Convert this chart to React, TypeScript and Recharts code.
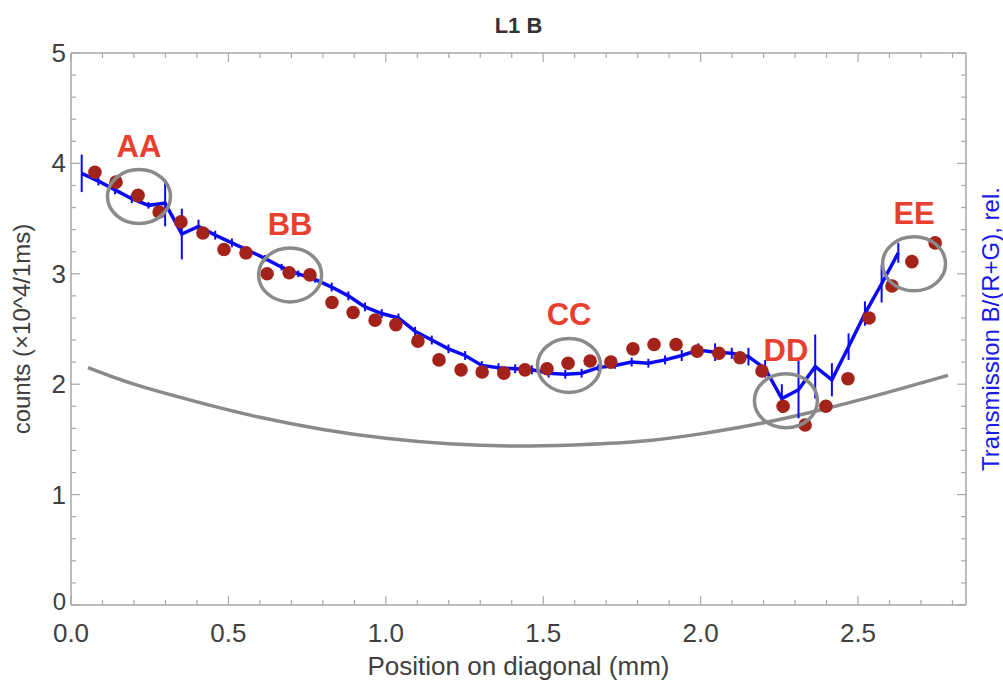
import React from 'react';
import { ComposedChart, XAxis, YAxis, Line, Scatter, ErrorBar } from 'recharts';

// ---- data ----
const countPos = [0.076, 0.143, 0.213, 0.280, 0.349, 0.419, 0.486, 0.556, 0.623, 0.693, 0.759, 0.829, 0.896, 0.966, 1.032, 1.102, 1.169, 1.239, 1.306, 1.375, 1.442, 1.512, 1.579, 1.649, 1.715, 1.785, 1.852, 1.922, 1.989, 2.058, 2.125, 2.195, 2.262, 2.332, 2.398, 2.468, 2.535, 2.608, 2.671, 2.745];
const countVal = [3.92, 3.83, 3.71, 3.56, 3.47, 3.37, 3.22, 3.19, 3.00, 3.01, 2.99, 2.74, 2.65, 2.58, 2.54, 2.39, 2.22, 2.13, 2.11, 2.10, 2.13, 2.14, 2.19, 2.21, 2.20, 2.32, 2.36, 2.36, 2.30, 2.28, 2.24, 2.12, 1.80, 1.63, 1.80, 2.05, 2.60, 2.89, 3.11, 3.28];

const transPos = [0.034, 0.087, 0.140, 0.193, 0.246, 0.299, 0.352, 0.405, 0.458, 0.511, 0.564, 0.616, 0.669, 0.722, 0.775, 0.828, 0.881, 0.934, 0.987, 1.040, 1.093, 1.146, 1.199, 1.252, 1.305, 1.358, 1.411, 1.464, 1.517, 1.570, 1.622, 1.675, 1.728, 1.781, 1.834, 1.887, 1.940, 1.993, 2.046, 2.099, 2.152, 2.205, 2.258, 2.311, 2.364, 2.417, 2.470, 2.522, 2.575, 2.628];
const transVal = [3.91, 3.84, 3.76, 3.68, 3.62, 3.64, 3.36, 3.43, 3.35, 3.28, 3.21, 3.14, 3.06, 3.00, 2.95, 2.88, 2.80, 2.70, 2.64, 2.60, 2.48, 2.40, 2.32, 2.26, 2.17, 2.15, 2.14, 2.13, 2.10, 2.09, 2.10, 2.15, 2.17, 2.20, 2.19, 2.22, 2.26, 2.31, 2.29, 2.28, 2.25, 2.14, 1.87, 1.95, 2.16, 2.04, 2.34, 2.64, 2.91, 3.19];
const transErr = [0.17, 0.04, 0.04, 0.04, 0.03, 0.21, 0.23, 0.06, 0.04, 0.04, 0.03, 0.03, 0.03, 0.03, 0.03, 0.04, 0.04, 0.04, 0.04, 0.04, 0.04, 0.04, 0.04, 0.04, 0.04, 0.04, 0.04, 0.04, 0.04, 0.04, 0.04, 0.03, 0.03, 0.04, 0.04, 0.04, 0.05, 0.06, 0.08, 0.05, 0.08, 0.08, 0.13, 0.26, 0.29, 0.15, 0.12, 0.11, 0.17, 0.09];

const basePos = [0.054, 0.2, 0.4, 0.6, 0.8, 1.0, 1.2, 1.4, 1.6, 1.8, 2.0, 2.2, 2.4, 2.6, 2.786];
const baseVal = [2.15, 2.00, 1.84, 1.70, 1.59, 1.51, 1.46, 1.44, 1.45, 1.48, 1.55, 1.65, 1.78, 1.93, 2.08];

const markNames = ['AA', 'BB', 'CC', 'DD', 'EE'];
const markPos = [0.216, 0.696, 1.582, 2.271, 2.678];
const markVal = [3.70, 2.99, 2.17, 1.85, 3.09];

const xTicks = [0, 0.1, 0.2, 0.3, 0.4, 0.5, 0.6, 0.7, 0.8, 0.9, 1.0, 1.1, 1.2, 1.3, 1.4, 1.5, 1.6, 1.7, 1.8, 1.9, 2.0, 2.1, 2.2, 2.3, 2.4, 2.5, 2.6, 2.7, 2.8];
const yTicks = [0, 0.2, 0.4, 0.6, 0.8, 1, 1.2, 1.4, 1.6, 1.8, 2, 2.2, 2.4, 2.6, 2.8, 3, 3.2, 3.4, 3.6, 3.8, 4, 4.2, 4.4, 4.6, 4.8, 5];

const title = 'L1 B';
const xLabel = 'Position on diagonal (mm)';
const yLabel = 'counts (×10^4/1ms)';
const y2Label = 'Transmission B/(R+G), rel.';

// ---- derived tables ----
const countData = countPos.map((x, i) => ({ x, y: countVal[i] }));
const transData = transPos.map((x, i) => ({ x, y: transVal[i], err: transErr[i] }));
const baseData = basePos.map((x, i) => ({ x, y: baseVal[i] }));
const markData = markPos.map((x, i) => ({ x, y: markVal[i], name: markNames[i] }));

// ---- styles ----
const FONT = '"Liberation Sans", Arial, Helvetica, sans-serif';
const FRAME = '#a8a8a8';
const TXT = '#404040';
const RED_DOT = '#a3231a';
const BLUE = '#0a0af5';
const GRAY = '#8a8a8a';
const LABEL_RED = '#e8402e';

const isMajorX = (v: number) => Math.abs(v * 2 - Math.round(v * 2)) < 1e-6;
const isMajorY = (v: number) => Math.abs(v - Math.round(v)) < 1e-6;

const BottomTick = (p: any) => {
  const v = p.payload.value;
  const major = isMajorX(v);
  return (
    <g>
      <line x1={p.x} x2={p.x} y1={p.y} y2={p.y - (major ? 9 : 5)} stroke={FRAME} strokeWidth={1.2} />
      {major && (
        <text x={p.x} y={p.y + 37} textAnchor="middle" fontSize={26} fill={TXT} fontFamily={FONT}>
          {v.toFixed(1)}
        </text>
      )}
    </g>
  );
};

const TopTick = (p: any) => {
  const v = p.payload.value;
  const major = isMajorX(v);
  return <line x1={p.x} x2={p.x} y1={p.y} y2={p.y + (major ? 9 : 5)} stroke={FRAME} strokeWidth={1.2} />;
};

const LeftTick = (p: any) => {
  const v = p.payload.value;
  const major = isMajorY(v);
  const fs = v === 0 ? 24 : 26;
  return (
    <g>
      <line x1={p.x} x2={p.x + (major ? 9 : 5)} y1={p.y} y2={p.y} stroke={FRAME} strokeWidth={1.2} />
      {major && (
        <text x={p.x - 5} y={p.y + (v === 0 ? 5 : 9)} textAnchor="end" fontSize={fs} fill={TXT} fontFamily={FONT}>
          {String(Math.round(v))}
        </text>
      )}
    </g>
  );
};

const RightTick = (p: any) => {
  const v = p.payload.value;
  const major = isMajorY(v);
  return <line x1={p.x} x2={p.x - (major ? 9 : 5)} y1={p.y} y2={p.y} stroke={FRAME} strokeWidth={1.2} />;
};

const RedDot = (p: any) => <circle cx={p.cx} cy={p.cy} r={6.8} fill={RED_DOT} />;

const MarkShape = (p: any) => (
  <g>
    <ellipse cx={p.cx} cy={p.cy} rx={31.5} ry={27} fill="none" stroke={GRAY} strokeWidth={3.5} />
    <text x={p.cx} y={p.cy - 40} textAnchor="middle" fontSize={31} fontWeight="bold" fill={LABEL_RED} fontFamily={FONT}>
      {p.payload.name}
    </text>
  </g>
);

export default function App() {
  return (
    <div style={{ position: 'absolute', left: 0, top: 0, background: '#fff' }}>
      <ComposedChart width={1003} height={685} margin={{ top: 0, right: 0, bottom: 0, left: 0 }}>
        <XAxis
          xAxisId="b"
          dataKey="x"
          type="number"
          orientation="bottom"
          domain={[0, 2.843]}
          allowDataOverflow
          ticks={xTicks}
          interval={0}
          height={80}
          tickSize={0}
          tickMargin={0}
          tickLine={false}
          axisLine={{ stroke: FRAME, strokeWidth: 1.5 }}
          tick={BottomTick}
          label={{
            content: (lp: any) => {
              const vb = lp.viewBox;
              return (
                <text x={vb.x + vb.width / 2} y={vb.y + 70} textAnchor="middle" fontSize={26} fill={TXT} fontFamily={FONT}>
                  {xLabel}
                </text>
              );
            },
          }}
        />
        <XAxis
          xAxisId="t"
          dataKey="x"
          type="number"
          orientation="top"
          domain={[0, 2.843]}
          allowDataOverflow
          ticks={xTicks}
          interval={0}
          height={53}
          tickSize={0}
          tickMargin={0}
          tickLine={false}
          axisLine={{ stroke: FRAME, strokeWidth: 1.5 }}
          tick={TopTick}
          label={{
            content: (lp: any) => {
              const vb = lp.viewBox;
              return (
                <text x={vb.x + vb.width / 2} y={vb.y + 33} textAnchor="middle" fontSize={22} fontWeight="bold" fill="#333" fontFamily={FONT}>
                  {title}
                </text>
              );
            },
          }}
        />
        <YAxis
          yAxisId="l"
          type="number"
          orientation="left"
          domain={[0, 5]}
          allowDataOverflow
          ticks={yTicks}
          interval={0}
          width={71}
          tickSize={0}
          tickMargin={0}
          tickLine={false}
          axisLine={{ stroke: FRAME, strokeWidth: 1.5 }}
          tick={LeftTick}
          label={{
            content: (lp: any) => {
              const vb = lp.viewBox;
              const cx = vb.x + 21;
              const cy = vb.y + vb.height / 2;
              return (
                <text x={cx} y={cy} transform={`rotate(-90 ${cx} ${cy})`} textAnchor="middle" dominantBaseline="central" fontSize={24} fill={TXT} fontFamily={FONT}>
                  {yLabel}
                </text>
              );
            },
          }}
        />
        <YAxis
          yAxisId="r"
          type="number"
          orientation="right"
          domain={[0, 5]}
          allowDataOverflow
          ticks={yTicks}
          interval={0}
          width={37}
          tickSize={0}
          tickMargin={0}
          tickLine={false}
          axisLine={{ stroke: FRAME, strokeWidth: 1.5 }}
          tick={RightTick}
          label={{
            content: (lp: any) => {
              const vb = lp.viewBox;
              const cx = vb.x + 24;
              const cy = vb.y + vb.height / 2;
              return (
                <text x={cx} y={cy} transform={`rotate(-90 ${cx} ${cy})`} textAnchor="middle" dominantBaseline="central" fontSize={24} fill="#1a1ae6" fontFamily={FONT}>
                  {y2Label}
                </text>
              );
            },
          }}
        />
        <Line
          xAxisId="b"
          yAxisId="l"
          data={baseData}
          dataKey="y"
          type="natural"
          stroke={GRAY}
          strokeWidth={3.5}
          dot={false}
          activeDot={false}
          isAnimationActive={false}
        />
        <Line
          xAxisId="b"
          yAxisId="l"
          data={transData}
          dataKey="y"
          type="linear"
          stroke={BLUE}
          strokeWidth={3.5}
          dot={false}
          activeDot={false}
          isAnimationActive={false}
        >
          <ErrorBar dataKey="err" direction="y" width={0} stroke={BLUE} strokeWidth={2} />
        </Line>
        <Scatter xAxisId="b" yAxisId="l" data={countData} dataKey="y" shape={RedDot} isAnimationActive={false} />
        <Scatter xAxisId="b" yAxisId="l" data={markData} dataKey="y" shape={MarkShape} isAnimationActive={false} />
      </ComposedChart>
    </div>
  );
}
